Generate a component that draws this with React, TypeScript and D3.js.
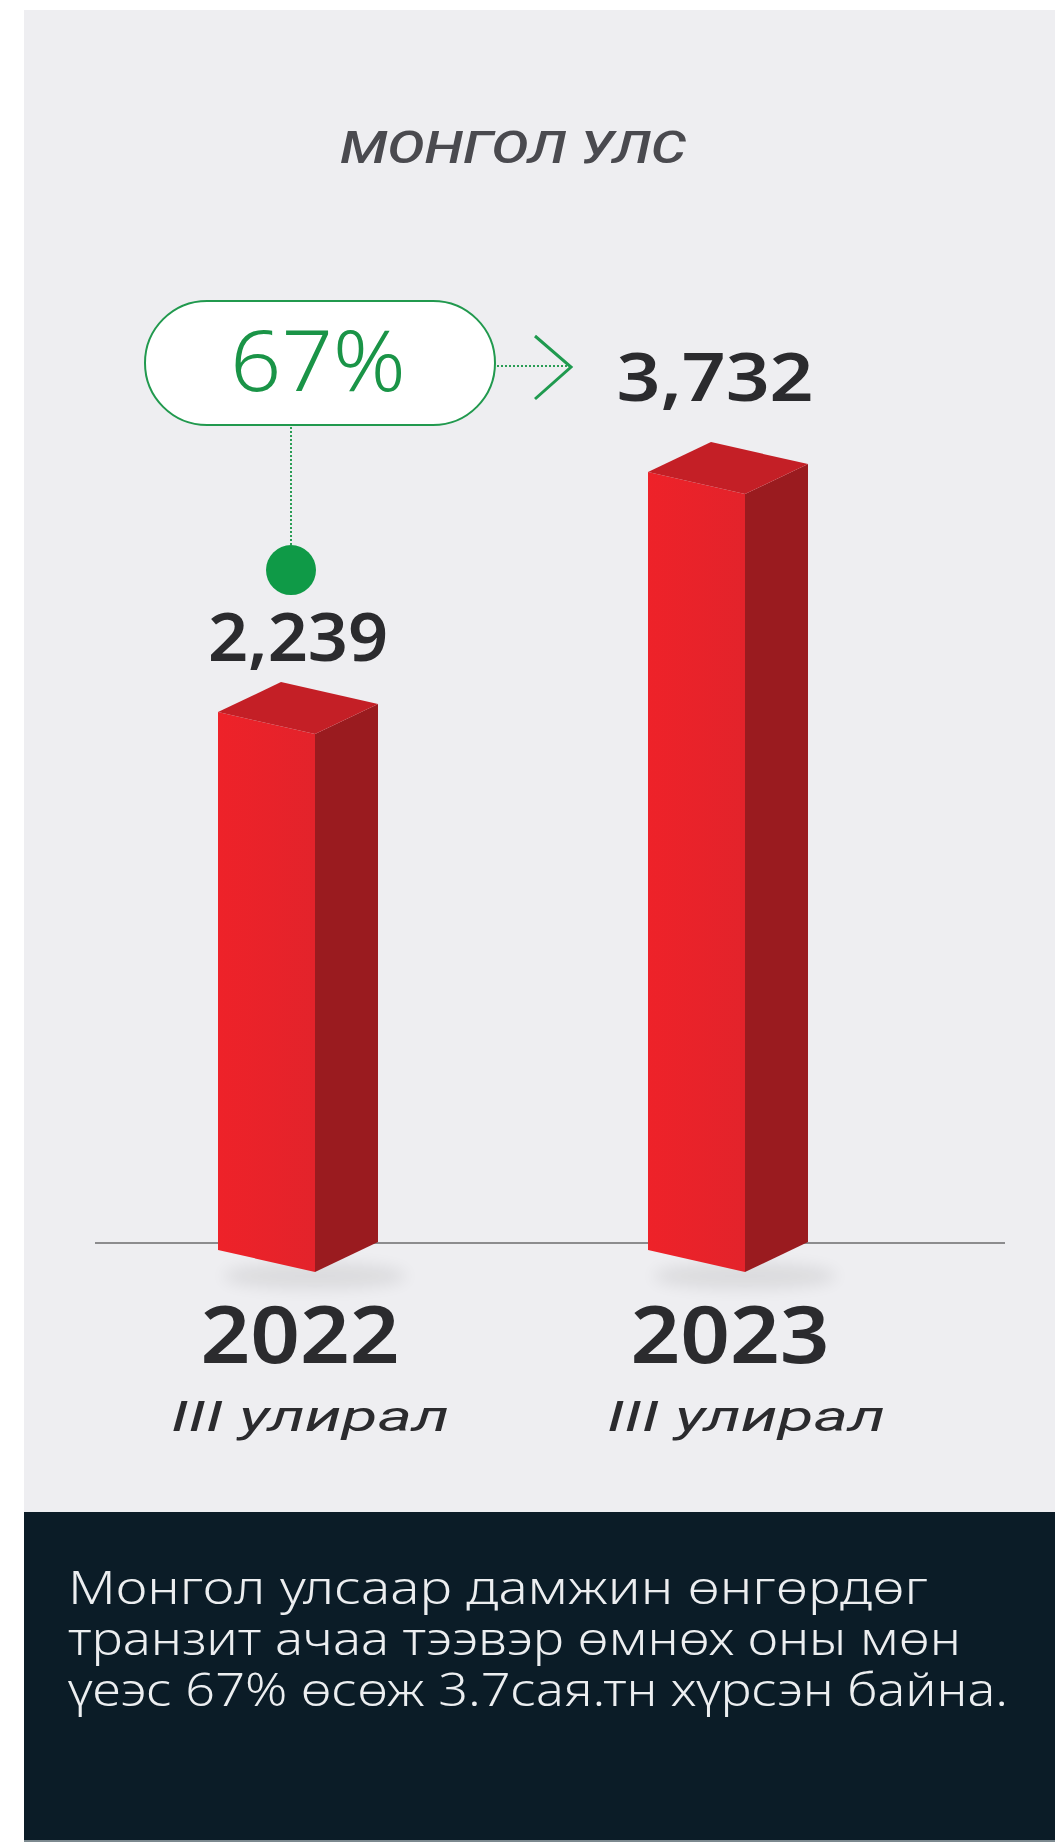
import React from "react";
import * as d3 from "d3";

const categories = ["2022", "2023"];
const values = [2239, 3732];
const valueLabels = ["2,239", "3,732"];
const periodLabels = ["III улирал", "III улирал"];
const title = "МОНГОЛ УЛС";
const growthLabel = "67%";
const bodyLines = [
  "Монгол улсаар дамжин өнгөрдөг",
  "транзит ачаа тээвэр өмнөх оны мөн",
  "үеэс 67% өсөж 3.7сая.тн хүрсэн байна.",
];

const W = 1055;
const H = 1842;
const FONT = "'Noto Sans', 'Open Sans', sans-serif";
const ITALIC_FONT = "Roboto, 'Open Sans', sans-serif";

export default function App() {
  const x = d3.scalePoint<string>().domain(categories).range([218, 648]);
  const y = d3.scaleLinear().domain([0, 4000]).range([1072, 429]);
  const fw = 97; // front face width
  const sw = 63; // side face width
  const fd = 22; // front slope drop
  const sd = 30; // side slope rise
  const yBottom = 1250;
  const labelOffset = [51, 71];
  const labelDx = [0, -13];
  const labelWidths = [180, 197];
  const bodyWidths = [860, 893, 940];

  const poly = (pts: [number, number][]) =>
    "M" + pts.map((p) => p.join(",")).join("L") + "Z";

  const x1 = x(categories[0])!;
  const top1 = y(values[0]);

  return (
    <div style={{ position: "absolute", left: 0, top: 0 }}>
      <svg width={W} height={H} viewBox={`0 0 ${W} ${H}`} style={{ display: "block" }}>
        <defs>
          <filter id="blur" x="-50%" y="-50%" width="200%" height="200%">
            <feGaussianBlur stdDeviation="8" />
          </filter>
          <linearGradient id="front" x1="0" x2="1" y1="0" y2="0">
            <stop offset="0" stopColor="#ee2229" />
            <stop offset="1" stopColor="#e3232b" />
          </linearGradient>
        </defs>
        <rect x={0} y={0} width={W} height={H} fill="#ffffff" />
        <rect x={24} y={10} width={W - 24} height={1502} fill="#eeeef1" />
        <rect x={24} y={1512} width={W - 24} height={328} fill="#0b1c27" />
        <rect x={24} y={1840} width={W - 24} height={2} fill="#7d8a90" />

        <text
          x={513}
          y={163}
          textAnchor="middle"
          fontFamily={ITALIC_FONT}
          fontStyle="italic"
          fontWeight={500}
          fontSize={45}
          fill="#4a4a4f"
          textLength={346}
          lengthAdjust="spacingAndGlyphs"
        >
          {title}
        </text>

        {/* baseline */}
        <line x1={95} x2={1005} y1={1243} y2={1243} stroke="#8c8c8e" strokeWidth={2} />

        {categories.map((c, i) => {
          const bx = x(c)!;
          const yt = y(values[i]);
          return (
            <g key={c}>
              <ellipse
                cx={bx + fw}
                cy={yBottom + fd + 4}
                rx={92}
                ry={13}
                fill="#000"
                opacity={0.08}
                filter="url(#blur)"
              />
              <path
                d={poly([
                  [bx, yt],
                  [bx + fw, yt + fd],
                  [bx + fw, yBottom + fd],
                  [bx, yBottom],
                ])}
                fill="url(#front)"
              />
              <path
                d={poly([
                  [bx + fw, yt + fd],
                  [bx + fw + sw, yt + fd - sd],
                  [bx + fw + sw, yBottom + fd - sd],
                  [bx + fw, yBottom + fd],
                ])}
                fill="#9a1b1f"
              />
              <path
                d={poly([
                  [bx, yt],
                  [bx + fw, yt + fd],
                  [bx + fw + sw, yt + fd - sd],
                  [bx + sw, yt - sd],
                ])}
                fill="#c41f26"
              />
              <text
                x={bx + (fw + sw) / 2 + labelDx[i]}
                y={yt - labelOffset[i]}
                textAnchor="middle"
                fontFamily={FONT}
                fontWeight={600}
                fontSize={66}
                fill="#2b2b2e"
                textLength={labelWidths[i]}
                lengthAdjust="spacingAndGlyphs"
              >
                {valueLabels[i]}
              </text>
              <text
                x={bx + (fw + sw) / 2 + 2}
                y={1363}
                textAnchor="middle"
                fontFamily={FONT}
                fontWeight={600}
                fontSize={80}
                fill="#2b2b2e"
                textLength={199}
                lengthAdjust="spacingAndGlyphs"
              >
                {c}
              </text>
              <text
                x={bx + (fw + sw) / 2 + 12 + i * 6}
                y={1431}
                textAnchor="middle"
                fontFamily={ITALIC_FONT}
                fontStyle="italic"
                fontWeight={400}
                fontSize={43}
                fill="#2b2b2e"
                textLength={278}
                lengthAdjust="spacingAndGlyphs"
              >
                {periodLabels[i]}
              </text>
            </g>
          );
        })}

        {/* growth annotation */}
        <line
          x1={x1 + 73}
          x2={x1 + 73}
          y1={427}
          y2={548}
          stroke="#2a9d55"
          strokeWidth={2}
          strokeDasharray="2,2"
        />
        <circle cx={x1 + 73} cy={top1 - 142} r={25} fill="#0f9a47" />
        <line x1={497} x2={568} y1={366} y2={366} stroke="#2a9d55" strokeWidth={2} strokeDasharray="2,2" />
        <path d="M535,336 L571,367 L535,399" fill="none" stroke="#1f9a4f" strokeWidth={3} />
        <rect
          x={145}
          y={301}
          width={350}
          height={124}
          rx={62}
          ry={62}
          fill="#ffffff"
          stroke="#21994e"
          strokeWidth={2}
        />
        <text
          x={318}
          y={391}
          textAnchor="middle"
          fontFamily={FONT}
          fontWeight={300}
          fontSize={84}
          fill="#1a9447"
          textLength={176}
          lengthAdjust="spacingAndGlyphs"
        >
          {growthLabel}
        </text>

        {bodyLines.map((l, i) => (
          <text
            key={i}
            x={68}
            y={1604 + i * 51}
            fontFamily={FONT}
            fontWeight={300}
            fontSize={46}
            fill="#eceef0"
            textLength={bodyWidths[i]}
            lengthAdjust="spacingAndGlyphs"
          >
            {l}
          </text>
        ))}
      </svg>
    </div>
  );
}
